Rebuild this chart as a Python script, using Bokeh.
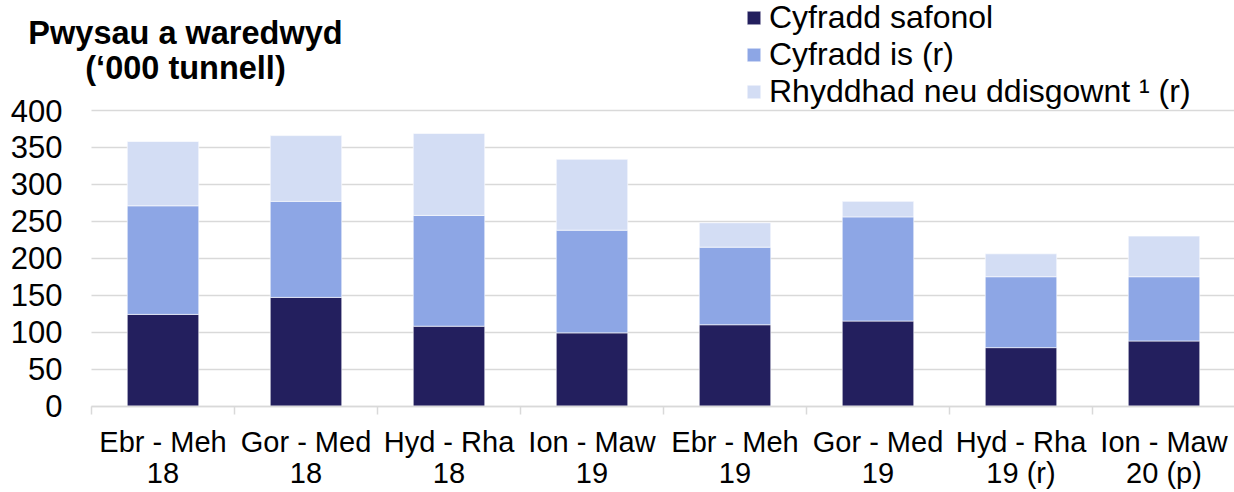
from bokeh.plotting import figure
from bokeh.models import Range1d, FixedTicker, Legend, LegendItem, Label, ColumnDataSource, LinearAxis
from bokeh.embed import file_html
from bokeh.resources import INLINE

# ---- data ----
periods_line1 = ["Ebr - Meh", "Gor - Med", "Hyd - Rha", "Ion - Maw",
                 "Ebr - Meh", "Gor - Med", "Hyd - Rha", "Ion - Maw"]
periods_line2 = ["18", "18", "18", "19", "19", "19", "19 (r)", "20 (p)"]
standard_rate = [124, 147, 108, 99, 110, 115, 79, 88]
lower_rate = [147, 130, 150, 139, 105, 141, 96, 87]
relief = [87, 89, 111, 96, 33, 21, 31, 55]
series_names = ["Cyfradd safonol", "Cyfradd is (r)", "Rhyddhad neu ddisgownt \u00b9 (r)"]
y_ticks = [0, 50, 100, 150, 200, 250, 300, 350, 400]
title_lines = ["Pwysau a waredwyd", "(\u2018000 tunnell)"]

# ---- style / layout ----
colors = ["#231F5E", "#8DA6E5", "#D3DDF4"]
FONT = "Liberation Sans"
GRID = "#D9D9D9"
W, H = 1234, 492
PLOT_LEFT = 91          # px where the category axis starts
PX_PER_CAT = 143        # px per category
ZERO_Y = 405.5          # px (from top) of value 0
TOP_Y = 110             # px (from top) of value 400
ppu = (ZERO_Y - TOP_Y) / 400.0

n = len(periods_line1)
xs = list(range(n))
src = ColumnDataSource(dict(x=xs, s=standard_rate, l=lower_rate, r=relief))

x_start = -0.5 - PLOT_LEFT / PX_PER_CAT
x_end = -0.5 + (W - PLOT_LEFT) / PX_PER_CAT
y_start = -(H - ZERO_Y) / ppu
y_end = 400 + TOP_Y / ppu

p = figure(width=W, height=H, output_backend="svg", toolbar_location=None,
           x_range=Range1d(x_start, x_end), y_range=Range1d(y_start, y_end),
           min_border=0, x_axis_location=None, y_axis_location=None)
p.outline_line_color = None
p.background_fill_color = "white"
p.border_fill_color = "white"
p.xgrid.visible = False
p.ygrid.visible = False

rs = p.vbar_stack(["s", "l", "r"], x="x", width=0.5, color=colors, source=src,
                  line_color="white", line_width=0.6)

# y axis at the left end of the categories; its inward ticks act as grid lines
yax = LinearAxis(fixed_location=-0.5, ticker=FixedTicker(ticks=y_ticks, minor_ticks=[]),
                 level="underlay")
yax.axis_line_color = None
yax.major_tick_line_color = GRID
yax.major_tick_line_width = 1.5
yax.major_tick_out = 0
yax.major_tick_in = int(W - PLOT_LEFT)
yax.minor_tick_line_color = None
yax.major_label_standoff = 29
yax.major_label_text_font = FONT
yax.major_label_text_font_size = "31px"
yax.major_label_text_color = "#000000"
p.add_layout(yax, "left")

# category axis (first line of labels, boundary ticks)
bounds_ticks = [i - 0.5 for i in range(n + 1)]
xax1 = LinearAxis(fixed_location=0, bounds=(-0.5, n - 0.5),
                  ticker=FixedTicker(ticks=xs, minor_ticks=bounds_ticks))
xax1.major_label_overrides = {i: lab for i, lab in zip(xs, periods_line1)}
xax1.axis_line_color = GRID
xax1.axis_line_width = 1.5
xax1.major_tick_line_color = None
xax1.major_tick_out = 0
xax1.major_tick_in = 0
xax1.minor_tick_line_color = GRID
xax1.minor_tick_line_width = 1.5
xax1.minor_tick_out = 8
xax1.minor_tick_in = 0
xax1.major_label_standoff = 12
xax1.major_label_text_font = FONT
xax1.major_label_text_font_size = "29px"
xax1.major_label_text_color = "#000000"
p.add_layout(xax1, "below")

# second line of category labels
xax2 = LinearAxis(fixed_location=0, bounds=(-0.5, n - 0.5),
                  ticker=FixedTicker(ticks=xs, minor_ticks=[]))
xax2.major_label_overrides = {i: lab for i, lab in zip(xs, periods_line2)}
xax2.axis_line_color = None
xax2.major_tick_line_color = None
xax2.minor_tick_line_color = None
xax2.major_tick_out = 0
xax2.major_tick_in = 0
xax2.major_label_standoff = 51
xax2.major_label_text_font = FONT
xax2.major_label_text_font_size = "29px"
xax2.major_label_text_color = "#000000"
p.add_layout(xax2, "below")

# legend (top right)
legend = Legend(items=[LegendItem(label=nm, renderers=[r]) for nm, r in zip(series_names, rs)],
                location=(745, H - 110), padding=0, margin=0, spacing=0,
                glyph_width=17, glyph_height=17, label_height=36, label_standoff=7,
                label_text_font=FONT, label_text_font_size="32px", label_text_color="#000000",
                background_fill_alpha=0, border_line_alpha=0)
p.add_layout(legend)

# title (two centred bold lines, top left)
for line, base in zip(title_lines, [32, 67.5]):
    p.add_layout(Label(x=185, y=H - base, x_units="screen", y_units="screen", text=line,
                       text_align="center", text_baseline="alphabetic",
                       text_font=FONT, text_font_style="bold", text_font_size="32.5px",
                       text_color="#000000"))

open("out.html", "w").write(file_html(p, INLINE))
